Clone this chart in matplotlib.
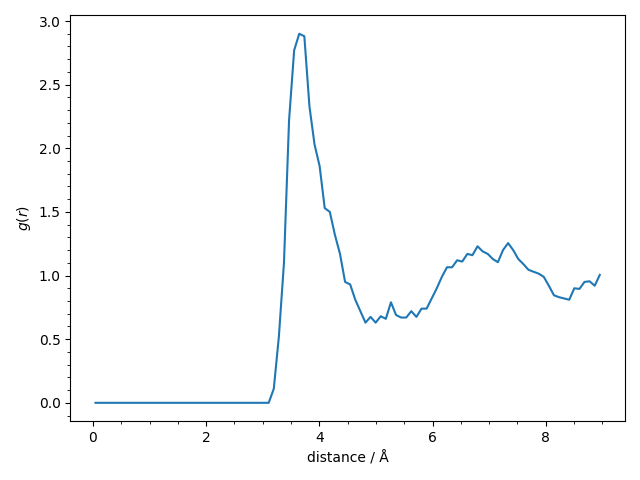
import numpy as np
import matplotlib
matplotlib.use("Agg")
import matplotlib.pyplot as plt

# histogram bins used for the rdf (100 bins between 0 and 9 A)
r_min, r_max, nbins = 0.0, 9.0, 100
edges = np.linspace(r_min, r_max, nbins + 1)
r = 0.5 * (edges[:-1] + edges[1:])

# g(r); nothing below ~3.1 A
g_core = [0.0] * 34
g_peak = [0.0, 0.11, 0.52, 1.10, 2.22, 2.77, 2.90, 2.88, 2.33, 2.03,
          1.86, 1.53, 1.50, 1.32, 1.17, 0.95, 0.93, 0.81, 0.72, 0.63,
          0.675, 0.63]
g_tail = [0.68, 0.66, 0.79, 0.69, 0.67, 0.67, 0.72, 0.675, 0.74, 0.74,
          0.82, 0.90, 0.99, 1.065, 1.065, 1.12, 1.11, 1.17, 1.16, 1.23,
          1.19, 1.17, 1.13, 1.105, 1.20, 1.255, 1.20, 1.13, 1.09, 1.045,
          1.03, 1.015, 0.99, 0.92, 0.845, 0.83, 0.82, 0.81, 0.90, 0.895,
          0.95, 0.955, 0.92, 1.005]
g = np.array(g_core + g_peak + g_tail)

fig, ax = plt.subplots(figsize=(6.4, 4.8), dpi=100)
ax.plot(r, g)
ax.set_xlabel("distance / Å")
ax.set_ylabel("$g(r)$")
ax.minorticks_on()
fig.tight_layout()
fig.savefig("out.png")
